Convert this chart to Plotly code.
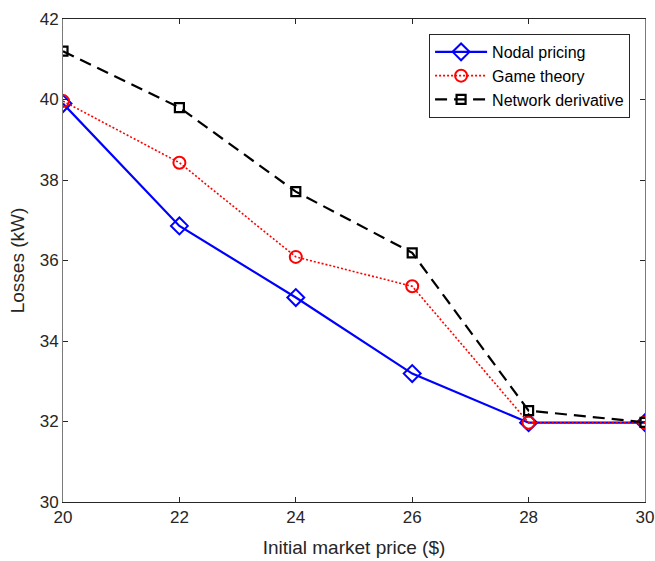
import plotly.graph_objects as go

price = [20, 22, 24, 26, 28, 30]
nodal = [39.9, 36.86, 35.08, 33.19, 31.97, 31.97]
game = [39.96, 38.43, 36.09, 35.36, 31.97, 31.97]
network = [41.2, 39.8, 37.71, 36.19, 32.27, 31.98]

x_ticks = [20, 22, 24, 26, 28, 30]
y_ticks = [30, 32, 34, 36, 38, 40, 42]

FONT = "Liberation Sans, Arial, sans-serif"
AX = "#262626"

fig = go.Figure()
fig.add_trace(go.Scatter(
    x=price, y=nodal, name="Nodal pricing", mode="lines+markers",
    line=dict(color="#0000ff", width=2.2),
    marker=dict(symbol="diamond-open", size=13, color="#0000ff", line=dict(width=2)),
))
fig.add_trace(go.Scatter(
    x=price, y=game, name="Game theory", mode="lines+markers",
    line=dict(color="#ff0000", width=1.6, dash="2px,2px"),
    marker=dict(symbol="circle-open", size=12, color="#ff0000", line=dict(width=2)),
))
fig.add_trace(go.Scatter(
    x=price, y=network, name="Network derivative", mode="lines+markers",
    line=dict(color="#000000", width=2.2, dash="12px,7px"),
    marker=dict(symbol="square-open", size=9, color="#000000", line=dict(width=2.2)),
))

axis_common = dict(
    showline=True, linewidth=1, mirror="ticks",
    ticks="inside", ticklen=5, tickcolor=AX, tickwidth=1,
    showgrid=False, zeroline=False, automargin=False,
    tickfont=dict(family=FONT, size=17, color=AX),
)

fig.update_layout(
    width=655, height=561,
    paper_bgcolor="white", plot_bgcolor="white",
    margin=dict(l=63, r=10, t=19, b=59, autoexpand=False),
    font=dict(family=FONT, color=AX),
    xaxis=dict(range=[20, 30], tickvals=x_ticks, linecolor=AX,
               title=dict(text="Initial market price ($)", font=dict(family=FONT, size=19, color=AX), standoff=14),
               **axis_common),
    yaxis=dict(range=[30, 42], tickvals=y_ticks, linecolor="#7a7a7a",
               title=dict(text="Losses (kW)", font=dict(family=FONT, size=19, color=AX), standoff=10),
               **axis_common),
    legend=dict(x=0.629, y=0.969, xanchor="left", yanchor="top",
                bgcolor="white", bordercolor=AX, borderwidth=1,
                font=dict(family=FONT, size=16, color="#000000"),
                tracegroupgap=0, itemwidth=52),
    showlegend=True,
)

fig.write_html("out.html", config={"displayModeBar": False},
               post_script="document.body.style.margin='0';document.body.style.overflow='hidden';")
